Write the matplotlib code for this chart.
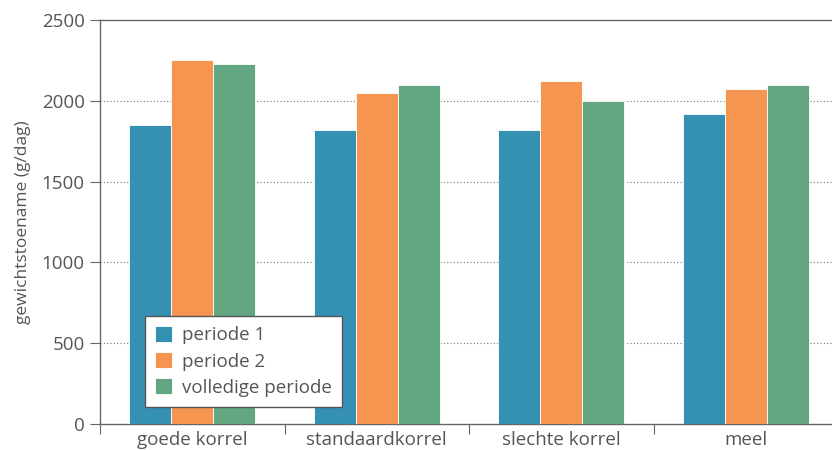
import matplotlib
matplotlib.use("Agg")
import matplotlib.pyplot as plt
import numpy as np

categories = ["goede korrel", "standaardkorrel", "slechte korrel", "meel"]
series_names = ["periode 1", "periode 2", "volledige periode"]
periode1 = [1850, 1820, 1820, 1920]
periode2 = [2250, 2050, 2120, 2070]
volledig = [2230, 2100, 2000, 2100]
yticks = [0, 500, 1000, 1500, 2000, 2500]
colors = ["#3591b3", "#f69550", "#63a682"]

plt.rcParams['font.family'] = ['Open Sans', 'DejaVu Sans']
txt = "#555555"

fig = plt.figure(figsize=(8.32, 4.5), dpi=100)
ax = fig.add_axes([100/832, 26/450, 738/832, 404/450])

x = np.arange(len(categories))
w = 0.227
for i, (vals, name, c) in enumerate(zip([periode1, periode2, volledig], series_names, colors)):
    ax.bar(x + (i - 1) * w, vals, width=w, color=c, label=name,
           edgecolor="white", linewidth=0.6, zorder=3)

ax.set_xlim(-0.5, len(categories) - 0.5)
ax.set_ylim(0, 2500)
ax.set_yticks(yticks)
ax.set_yticklabels([str(v) for v in yticks], fontsize=13.5, color=txt)
ax.set_xticks(np.arange(len(categories) + 1) - 0.5)
ax.set_xticklabels([])
ax.set_xticks(x, minor=True)
ax.set_xticklabels(categories, minor=True, fontsize=13.5, color=txt)
ax.tick_params(axis='x', which='minor', length=0, pad=5)
ax.tick_params(axis='x', which='major', length=7, color="#666666", direction='out')
ax.tick_params(axis='y', length=7, color="#666666", direction='out', pad=4)

for y in yticks[1:-1]:
    ax.axhline(y, color="#777777", linestyle=(0, (1, 2)), linewidth=0.8, zorder=1)

for s in ["left", "bottom", "top"]:
    ax.spines[s].set_color("#666666")
    ax.spines[s].set_linewidth(1.0)
ax.spines["right"].set_visible(False)

ax.set_ylabel("gewichtstoename (g/dag)", fontsize=12.5, color=txt, labelpad=8)

leg = ax.legend(loc="lower left", bbox_to_anchor=(45/738, 17/404), fontsize=13.5,
                frameon=True, fancybox=False, edgecolor="#555555",
                handlelength=0.9, handleheight=0.9, handletextpad=0.5,
                borderpad=0.55, labelspacing=0.42, framealpha=1, borderaxespad=0)
leg.get_frame().set_linewidth(1.0)
for t in leg.get_texts():
    t.set_color(txt)
leg.set_zorder(5)

fig.savefig("out.png", dpi=100)
